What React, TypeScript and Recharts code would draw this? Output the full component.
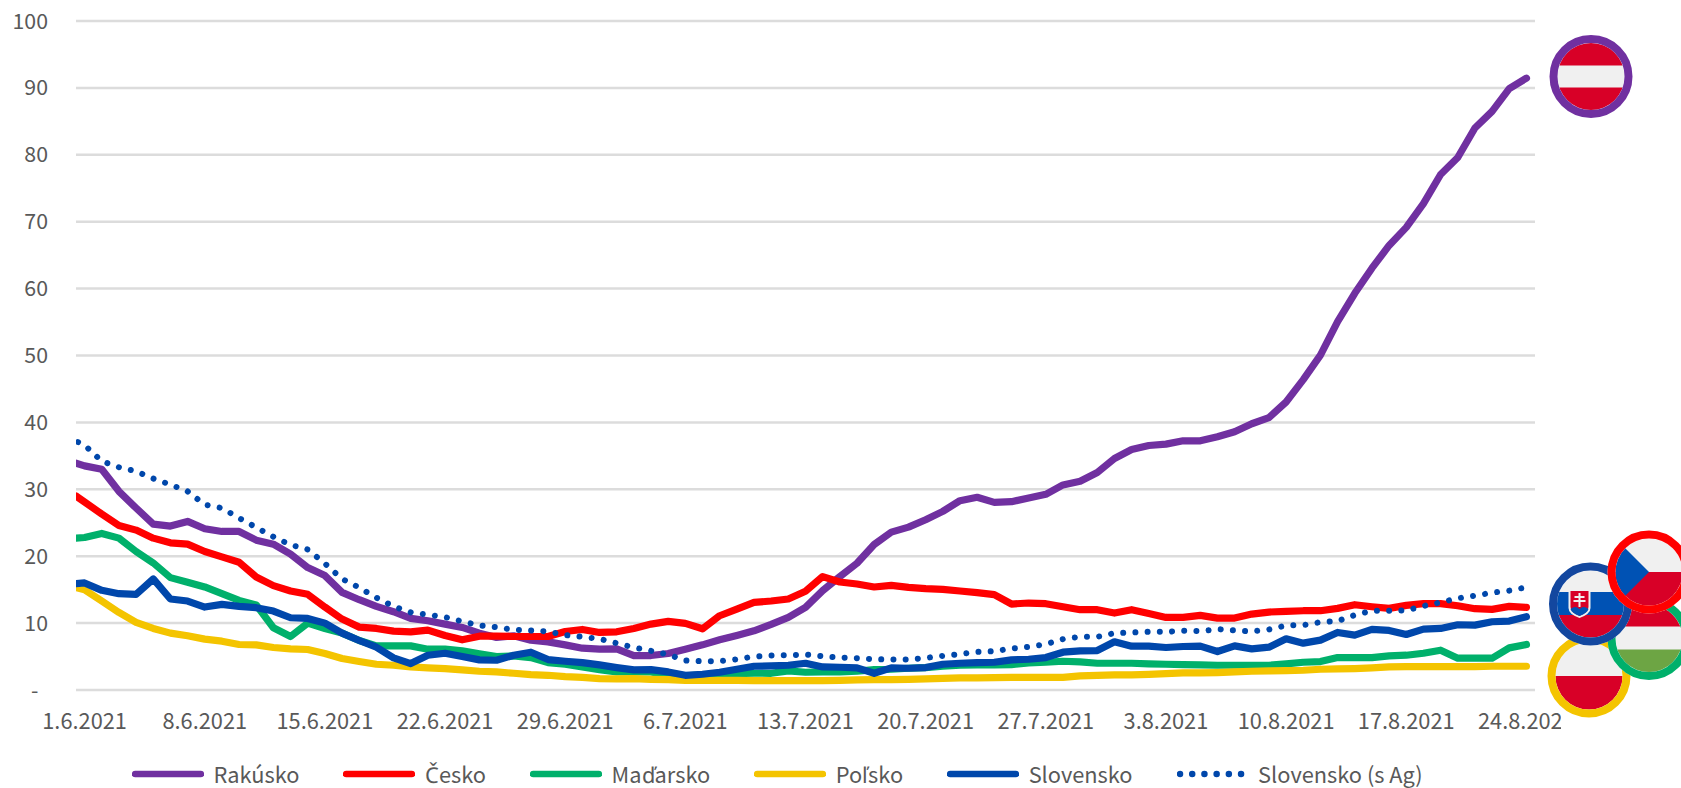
import { CartesianGrid, Legend, Line, LineChart, XAxis, YAxis } from "recharts";

// first entry of each series is where the line meets the left axis (x = -0.5)
const rakusko = [
  33.9, 33.5, 33.0, 29.7, 27.2, 24.8, 24.5, 25.2, 24.1, 23.7, 23.7, 22.4, 21.8, 20.3, 18.3, 17.1, 14.6, 13.5, 12.5, 11.7,
  10.7, 10.35, 9.85, 9.35, 8.5, 7.85, 8.1, 7.45, 7.2, 6.75, 6.25, 6.1, 6.15, 5.15, 5.15, 5.45, 6.1, 6.75, 7.5, 8.15,
  8.85, 9.8, 10.85, 12.35, 14.85, 16.95, 18.95, 21.75, 23.6, 24.35, 25.45, 26.7, 28.3, 28.8, 28.05, 28.15, 28.7, 29.25, 30.65, 31.2,
  32.5, 34.6, 35.95, 36.55, 36.75, 37.25, 37.25, 37.85, 38.6, 39.8, 40.7, 43.05, 46.4, 50.05, 55.05, 59.3, 63.05, 66.45, 69.15, 72.7,
  77.05, 79.6, 84.0, 86.5, 89.9, 91.45,
];
const cesko = [
  29.0, 28.1, 26.3, 24.6, 23.9, 22.7, 22.0, 21.8, 20.7, 19.9, 19.1, 16.9, 15.6, 14.8, 14.3, 12.4, 10.6, 9.4, 9.2, 8.8,
  8.7, 8.95, 8.15, 7.5, 8.05, 8.05, 8.0, 8.0, 8.0, 8.75, 9.05, 8.6, 8.7, 9.2, 9.85, 10.25, 9.95, 9.15, 11.1, 12.1,
  13.1, 13.3, 13.6, 14.75, 16.95, 16.15, 15.85, 15.4, 15.65, 15.35, 15.15, 15.05, 14.8, 14.55, 14.25, 12.85, 13.0, 12.9, 12.45, 12.0,
  12.0, 11.5, 12.0, 11.45, 10.85, 10.85, 11.15, 10.75, 10.75, 11.35, 11.65, 11.75, 11.85, 11.85, 12.2, 12.75, 12.45, 12.2, 12.65, 12.9,
  12.9, 12.6, 12.15, 12.05, 12.5, 12.35,
];
const madarsko = [
  22.7, 22.8, 23.4, 22.7, 20.7, 19.0, 16.8, 16.1, 15.4, 14.4, 13.4, 12.7, 9.3, 8.0, 10.0, 9.2, 8.5, 7.4, 6.6, 6.6,
  6.6, 6.1, 6.1, 5.85, 5.4, 5.0, 5.1, 4.85, 4.1, 3.85, 3.45, 3.05, 2.7, 2.75, 2.7, 2.2, 2.1, 2.25, 2.45, 2.45,
  2.5, 2.5, 2.85, 2.65, 2.7, 2.7, 2.8, 3.05, 3.1, 3.25, 3.35, 3.55, 3.7, 3.75, 3.75, 3.8, 4.05, 4.15, 4.3, 4.2,
  4.0, 4.0, 4.0, 3.9, 3.85, 3.8, 3.75, 3.7, 3.7, 3.7, 3.7, 3.9, 4.15, 4.25, 4.85, 4.85, 4.85, 5.1, 5.2, 5.5,
  5.95, 4.75, 4.75, 4.75, 6.3, 6.8,
];
const polsko = [
  15.3, 15.0, 13.3, 11.6, 10.1, 9.2, 8.5, 8.1, 7.6, 7.3, 6.8, 6.75, 6.35, 6.15, 6.05, 5.45, 4.7, 4.25, 3.85, 3.7,
  3.45, 3.3, 3.2, 3.0, 2.8, 2.7, 2.5, 2.3, 2.2, 2.0, 1.9, 1.7, 1.65, 1.7, 1.6, 1.55, 1.45, 1.45, 1.45, 1.45,
  1.4, 1.4, 1.4, 1.4, 1.4, 1.45, 1.5, 1.55, 1.55, 1.6, 1.65, 1.75, 1.8, 1.8, 1.85, 1.9, 1.9, 1.9, 1.9, 2.1,
  2.2, 2.25, 2.25, 2.35, 2.45, 2.55, 2.55, 2.6, 2.7, 2.8, 2.85, 2.9, 2.95, 3.1, 3.15, 3.2, 3.3, 3.45, 3.5, 3.5,
  3.5, 3.5, 3.5, 3.55, 3.55, 3.55,
];
const slovensko = [
  15.9, 16.0, 14.9, 14.4, 14.3, 16.6, 13.6, 13.3, 12.4, 12.8, 12.5, 12.3, 11.8, 10.8, 10.7, 10.0, 8.5, 7.4, 6.4, 4.8,
  3.95, 5.2, 5.5, 5.0, 4.5, 4.45, 5.2, 5.65, 4.55, 4.3, 4.1, 3.75, 3.35, 3.0, 3.05, 2.7, 2.2, 2.35, 2.65, 3.1,
  3.55, 3.6, 3.7, 4.0, 3.45, 3.4, 3.3, 2.5, 3.3, 3.25, 3.35, 3.85, 4.0, 4.1, 4.15, 4.5, 4.6, 4.85, 5.65, 5.85,
  5.9, 7.2, 6.55, 6.55, 6.35, 6.5, 6.55, 5.75, 6.6, 6.15, 6.4, 7.65, 7.0, 7.45, 8.6, 8.2, 9.05, 8.9, 8.3, 9.1,
  9.2, 9.75, 9.7, 10.2, 10.3, 10.95,
];
const slovenskoAg = [
  37.2, 36.6, 34.2, 33.3, 32.7, 31.6, 30.7, 29.7, 27.7, 27.2, 25.7, 24.3, 22.9, 21.7, 21.0, 18.9, 16.6, 15.3, 13.8, 12.5,
  11.6, 11.25, 10.9, 10.25, 9.65, 9.4, 9.0, 8.9, 8.75, 8.2, 7.95, 7.65, 7.0, 6.35, 5.85, 5.3, 4.4, 4.3, 4.3, 4.6,
  5.0, 5.15, 5.2, 5.3, 5.05, 4.85, 4.75, 4.6, 4.55, 4.55, 4.8, 5.1, 5.35, 5.7, 5.8, 6.2, 6.45, 6.85, 7.6, 7.95,
  7.95, 8.5, 8.6, 8.7, 8.7, 8.85, 8.8, 9.1, 8.9, 8.75, 9.05, 9.65, 9.7, 10.15, 10.3, 11.2, 11.85, 11.85, 11.9, 12.55,
  13.1, 13.7, 14.1, 14.55, 14.85, 15.35,
];

const seriesNames = ["Rakúsko", "Česko", "Maďarsko", "Poľsko", "Slovensko", "Slovensko (s Ag)"];
const tickDays = [0, 7, 14, 21, 28, 35, 42, 49, 56, 63, 70, 77, 84];
const tickDates = [
  "1.6.2021", "8.6.2021", "15.6.2021", "22.6.2021", "29.6.2021", "6.7.2021", "13.7.2021",
  "20.7.2021", "27.7.2021", "3.8.2021", "10.8.2021", "17.8.2021", "24.8.2021",
];
const yTicks = [0, 10, 20, 30, 40, 50, 60, 70, 80, 90, 100];

const data = rakusko.map((_, i) => ({
  day: i === 0 ? -0.5 : i - 1,
  rakusko: rakusko[i],
  cesko: cesko[i],
  madarsko: madarsko[i],
  polsko: polsko[i],
  slovensko: slovensko[i],
  slovenskoAg: slovenskoAg[i],
}));

// the CJK face decomposes these letters badly, so take them from Noto Sans
const accentFace = `@font-face {
  font-family: "AccentFix";
  src: local("Noto Sans"), local("NotoSans-Regular");
  unicode-range: U+010C, U+010D, U+010F, U+013E;
}`;

const FONT = '"AccentFix", "Noto Sans CJK SC", "Noto Sans", sans-serif';
const FONT_SIZE = 21.8;
const TEXT = "#595959";
const PURPLE = "#7030a0";
const RED = "#ff0000";
const GREEN = "#00b06b";
const YELLOW = "#f4c400";
const BLUE = "#0047ab";
const FLAG_RED = "#d80027";
const FLAG_WHITE = "#f0f0f0";

function LegendRow({ payload }: any) {
  return (
    <div
      style={{
        display: "flex",
        alignItems: "center",
        gap: 44,
        paddingLeft: 132,
        paddingTop: 10,
        fontFamily: FONT,
        fontSize: FONT_SIZE,
        color: TEXT,
        lineHeight: "30px",
      }}
    >
      {(payload ?? []).map((p: any) => (
        <div key={p.value} style={{ display: "flex", alignItems: "center", gap: 9.5 }}>
          <svg width={72} height={8}>
            <line
              x1={3}
              x2={69}
              y1={4}
              y2={4}
              stroke={p.color}
              strokeWidth={6.5}
              strokeLinecap="round"
              strokeDasharray={p.payload?.strokeDasharray}
            />
          </svg>
          <span>{p.value}</span>
        </div>
      ))}
    </div>
  );
}

function Flag({ id, cx, cy, ring, children }: any) {
  return (
    <g transform={`translate(${cx} ${cy})`}>
      <clipPath id={id}>
        <circle r={33.5} />
      </clipPath>
      <circle r={41.5} fill="#fff" />
      <g clipPath={`url(#${id})`}>
        <rect x={-34} y={-34} width={68} height={68} fill={FLAG_WHITE} />
        {children}
      </g>
      <circle r={37.5} fill="none" stroke={ring} strokeWidth={8} />
    </g>
  );
}

function Flags() {
  return (
    <svg
      width={1681}
      height={788}
      style={{ position: "absolute", left: 0, top: 0, pointerEvents: "none" }}
    >
      <Flag id="at" cx={1591} cy={76.5} ring={PURPLE}>
        <rect x={-34} y={-34} width={68} height={23} fill={FLAG_RED} />
        <rect x={-34} y={11} width={68} height={23} fill={FLAG_RED} />
      </Flag>
      <Flag id="pl" cx={1589} cy={676} ring={YELLOW}>
        <rect x={-34} y={0} width={68} height={34} fill={FLAG_RED} />
      </Flag>
      <Flag id="hu" cx={1649} cy={638.5} ring={GREEN}>
        <rect x={-34} y={-34} width={68} height={22} fill={FLAG_RED} />
        <rect x={-34} y={11} width={68} height={23} fill="#6da544" />
      </Flag>
      <Flag id="sk" cx={1590.5} cy={604} ring="#13479f">
        <rect x={-34} y={-12} width={68} height={23} fill="#0052b4" />
        <rect x={-34} y={11} width={68} height={23} fill={FLAG_RED} />
        <path d="M-22 -15 H0 V4 Q0 10 -11 14 Q-22 10 -22 4 Z" fill="#f0f0f0" />
        <path d="M-20 -13 H-2 V3 Q-2 8 -11 12 Q-20 8 -20 3 Z" fill={FLAG_RED} />
        <path d="M-20 5 Q-15 1 -11 5 Q-7 1 -2 5 Q-3 9 -11 12 Q-19 9 -20 5 Z" fill="#0052b4" />
        <path
          d="M-12 -11 H-10 V-8 H-6 V-6 H-10 V-4 H-5 V-2 H-10 V3 H-12 V-2 H-17 V-4 H-12 V-6 H-16 V-8 H-12 Z"
          fill="#f0f0f0"
        />
      </Flag>
      <Flag id="cz" cx={1649} cy={572} ring={RED}>
        <rect x={-34} y={0} width={68} height={34} fill={FLAG_RED} />
        <path d="M-34 -34 L0 0 L-34 34 Z" fill="#0052b4" />
      </Flag>
    </svg>
  );
}

const seriesLine = {
  type: "linear" as const,
  dot: false,
  activeDot: false,
  strokeWidth: 7.2,
  strokeLinejoin: "round" as const,
  strokeLinecap: "round" as const,
  isAnimationActive: false,
};

export default function App() {
  return (
    <div style={{ position: "absolute", left: 0, top: 0, width: 1681, height: 788, overflow: "hidden", background: "#fff" }}>
      <style>{accentFace}</style>
      <LineChart
        width={1561}
        height={788}
        data={data}
        margin={{ top: 21, right: 26, bottom: 0, left: 0 }}
      >
        <CartesianGrid vertical={false} stroke="#dcdcdc" strokeWidth={2.5} />
        <XAxis
          dataKey="day"
          type="number"
          domain={[-0.5, 84.5]}
          allowDataOverflow
          ticks={tickDays}
          interval={0}
          tickFormatter={(d: number) => tickDates[tickDays.indexOf(d)]}
          axisLine={false}
          tickLine={false}
          tickSize={0}
          tickMargin={24}
          height={58.5}
          tick={{ fontSize: FONT_SIZE, fill: TEXT, fontFamily: FONT }}
        />
        <YAxis
          type="number"
          domain={[0, 100]}
          ticks={yTicks}
          interval={0}
          tickFormatter={(v: number) => (v === 0 ? "-\u00A0\u00A0" : String(v))}
          axisLine={false}
          tickLine={false}
          tickSize={0}
          tickMargin={28}
          width={76}
          tick={{ fontSize: 21.3, fill: TEXT, fontFamily: FONT }}
        />
        <Legend
          content={<LegendRow />}
          height={39.5}
          verticalAlign="bottom"
          align="left"
          itemSorter={(item: any) => seriesNames.indexOf(item.value)}
        />
        <Line {...seriesLine} dataKey="rakusko" name={seriesNames[0]} stroke={PURPLE} />
        <Line {...seriesLine} dataKey="cesko" name={seriesNames[1]} stroke={RED} />
        <Line {...seriesLine} dataKey="madarsko" name={seriesNames[2]} stroke={GREEN} />
        <Line {...seriesLine} dataKey="polsko" name={seriesNames[3]} stroke={YELLOW} />
        <Line {...seriesLine} dataKey="slovensko" name={seriesNames[4]} stroke={BLUE} />
        <Line
          {...seriesLine}
          dataKey="slovenskoAg"
          name={seriesNames[5]}
          stroke={BLUE}
          strokeWidth={6}
          strokeDasharray="0.01 12.2"
          strokeDashoffset={-2.3}
        />
      </LineChart>
      <Flags />
    </div>
  );
}
